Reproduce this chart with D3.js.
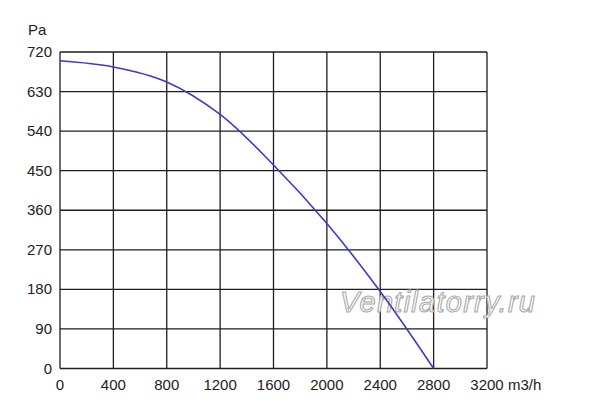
<!DOCTYPE html>
<html>
<head>
<meta charset="utf-8">
<script src="https://cdn.jsdelivr.net/npm/d3@7"></script>
<style>
  body { margin: 0; background: #fff; }
  svg { display: block; font-family: "Liberation Sans", Arial, sans-serif; }
</style>
</head>
<body>
<div class="chart-area"></div>
<script>
// luftmængde (m3/h) og tryk (Pa) aflæst fra kurven
var flow = [0, 400, 800, 1200, 1600, 2000, 2400, 2800];
var pressure = [700, 686, 652, 578, 463, 330, 175, 0];

// tick-værdier på akserne
var xTicks = [0, 400, 800, 1200, 1600, 2000, 2400, 2800, 3200];
var yTicks = [0, 90, 180, 270, 360, 450, 540, 630, 720];

var width = 600,
    height = 412;

var margin = {left: 60, top: 52, right: 113, bottom: 43.5};

var svg = d3.select('.chart-area')
    .append("svg")
    .attr("width", width)
    .attr("height", height);

var x = d3.scaleLinear()
    .domain([0, 3200])
    .range([margin.left, width - margin.right]);

var y = d3.scaleLinear()
    .domain([0, 720])
    .range([height - margin.bottom, margin.top]);

// gitterlinjer
svg.append("g")
    .selectAll("line")
    .data(xTicks)
    .join("line")
    .attr("x1", function(d) { return x(d); })
    .attr("x2", function(d) { return x(d); })
    .attr("y1", y(0))
    .attr("y2", y(720))
    .attr("stroke", "#1e1e1e")
    .attr("stroke-width", 1.3);

svg.append("g")
    .selectAll("line")
    .data(yTicks)
    .join("line")
    .attr("x1", x(0))
    .attr("x2", x(3200))
    .attr("y1", function(d) { return y(d); })
    .attr("y2", function(d) { return y(d); })
    .attr("stroke", "#1e1e1e")
    .attr("stroke-width", 1.3);

// akse-tekster
svg.append("g")
    .selectAll("text")
    .data(yTicks)
    .join("text")
    .attr("x", x(0) - 8)
    .attr("y", function(d) { return y(d) + 5; })
    .attr("text-anchor", "end")
    .attr("font-size", "15px")
    .attr("fill", "#222")
    .text(function(d) { return d; });

svg.append("g")
    .selectAll("text")
    .data(xTicks)
    .join("text")
    .attr("x", function(d) { return x(d); })
    .attr("y", y(0) + 21)
    .attr("text-anchor", "middle")
    .attr("font-size", "15px")
    .attr("fill", "#222")
    .text(function(d) { return d; });

// enheder
svg.append("text")
    .attr("x", 28)
    .attr("y", 35)
    .attr("font-size", "15px")
    .attr("fill", "#222")
    .text("Pa");

svg.append("text")
    .attr("x", x(3200) + 21)
    .attr("y", y(0) + 21)
    .attr("font-size", "15px")
    .attr("fill", "#222")
    .text("m3/h");

// vandmærke
svg.append("text")
    .attr("x", 340)
    .attr("y", 312)
    .attr("font-size", "29px")
    .attr("font-style", "italic")
    .attr("fill", "#fff")
    .attr("stroke", "#aaa")
    .attr("stroke-width", 1.1)
    .attr("textLength", 195)
    .text("Ventilatorry.ru");

// trykkurven
var line = d3.line()
    .x(function(d, i) { return x(flow[i]); })
    .y(function(d) { return y(d); })
    .curve(d3.curveCatmullRom);

svg.append("path")
    .datum(pressure)
    .attr("d", line)
    .attr("fill", "none")
    .attr("stroke", "#3b3bc8")
    .attr("stroke-width", 1.6);
</script>
</body>
</html>
